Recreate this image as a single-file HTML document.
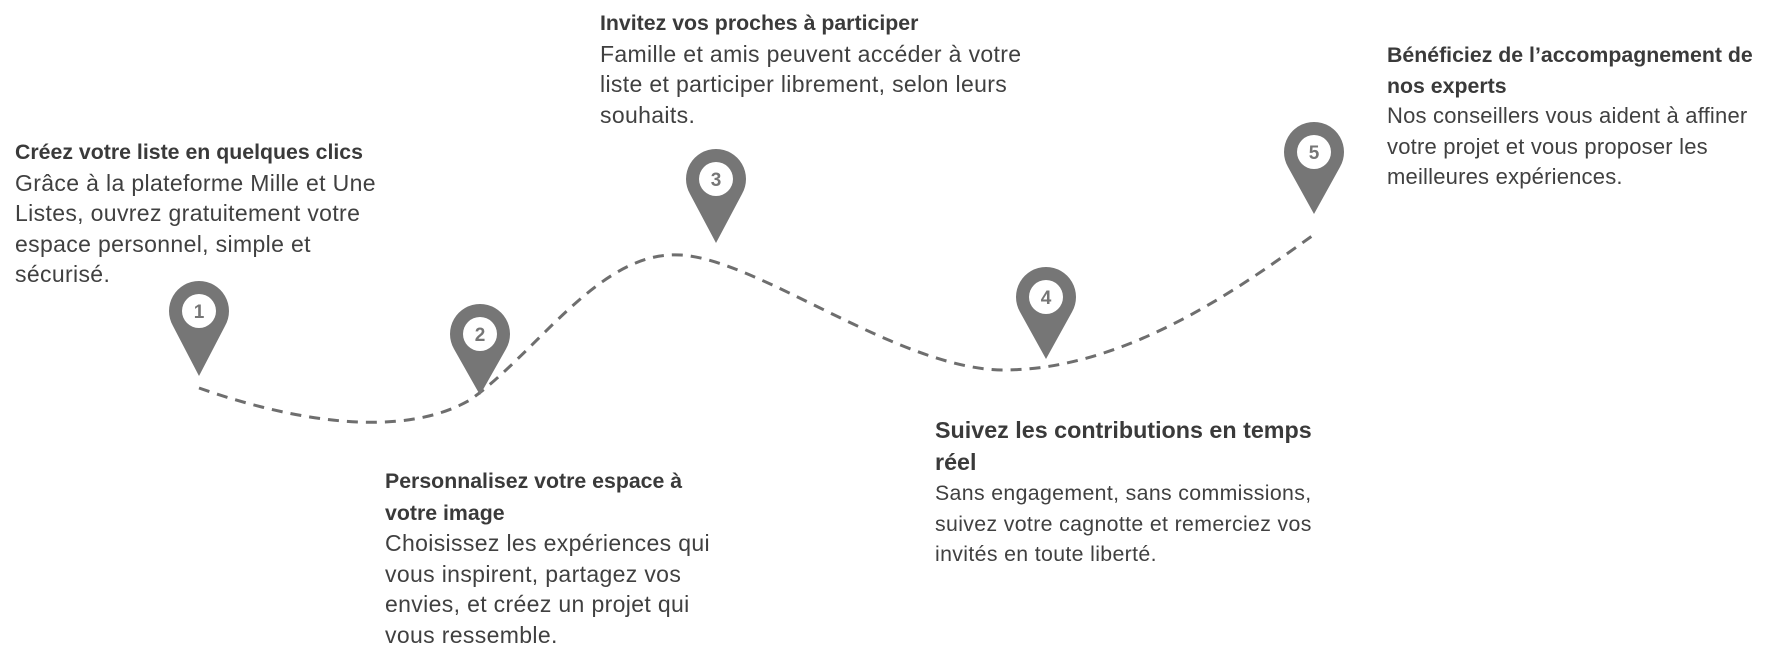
<!DOCTYPE html>
<html><head><meta charset="utf-8"><style>
body{margin:0;width:1779px;height:661px;background:#fff;position:relative;overflow:hidden;font-family:"Liberation Sans",sans-serif;color:#404040}
.t{position:absolute;font-size:23px;letter-spacing:0.35px;line-height:30.6px;white-space:nowrap}
.t b{font-size:21.3px;letter-spacing:0;color:#3a3a3a}
svg{position:absolute;left:0;top:0}
</style></head><body>
<svg width="1779" height="661">
<path d="M199,388 C290,420 400,440 470,400 C540,350 600,250 681,255 C760,260 900,370 1004,370 C1130,370 1250,280 1312,236" fill="none" stroke="#6e6e6e" stroke-width="3" stroke-dasharray="11 8"/>
<g fill="#767676">
<path d="M199,376 L173,326 A30,30 0 1 1 225,326 Z"/>
<path d="M480,395 L454,349 A30,30 0 1 1 506,349 Z"/>
<path d="M716,243 L690,194 A30,30 0 1 1 742,194 Z"/>
<path d="M1046,359 L1020,312 A30,30 0 1 1 1072,312 Z"/>
<path d="M1314,214 L1288,167 A30,30 0 1 1 1340,167 Z"/>
</g>
<g fill="#fff"><circle cx="199" cy="311" r="17"/><circle cx="480" cy="334" r="17"/><circle cx="716" cy="179" r="17"/><circle cx="1046" cy="297" r="17"/><circle cx="1314" cy="152" r="17"/></g>
<g fill="#767676" font-family="Liberation Sans" font-weight="bold" font-size="19" text-anchor="middle">
<text x="199" y="318">1</text><text x="480" y="341">2</text><text x="716" y="186">3</text><text x="1046" y="304">4</text><text x="1314" y="159">5</text>
</g>
</svg>
<div class="t" style="left:15px;top:136px"><b>Créez votre liste en quelques clics</b><br>Grâce à la plateforme Mille et Une<br>Listes, ouvrez gratuitement votre<br>espace personnel, simple et<br>sécurisé.</div>
<div class="t" style="left:385px;top:465px"><b>Personnalisez votre espace à</b><br><b>votre image</b><br>Choisissez les expériences qui<br>vous inspirent, partagez vos<br>envies, et créez un projet qui<br>vous ressemble.</div>
<div class="t" style="left:600px;top:7px"><b>Invitez vos proches à participer</b><br>Famille et amis peuvent accéder à votre<br>liste et participer librement, selon leurs<br>souhaits.</div>
<div class="t" style="left:935px;top:415px;font-size:21.3px"><b style="font-size:23.3px">Suivez les contributions en temps</b><br><b style="font-size:23.3px">réel</b><br>Sans engagement, sans commissions,<br>suivez votre cagnotte et remerciez vos<br>invités en toute liberté.</div>
<div class="t" style="left:1387px;top:40px;font-size:22px;letter-spacing:0.2px"><b>Bénéficiez de l’accompagnement de</b><br><b>nos experts</b><br>Nos conseillers vous aident à affiner<br>votre projet et vous proposer les<br>meilleures expériences.</div>
</body></html>
